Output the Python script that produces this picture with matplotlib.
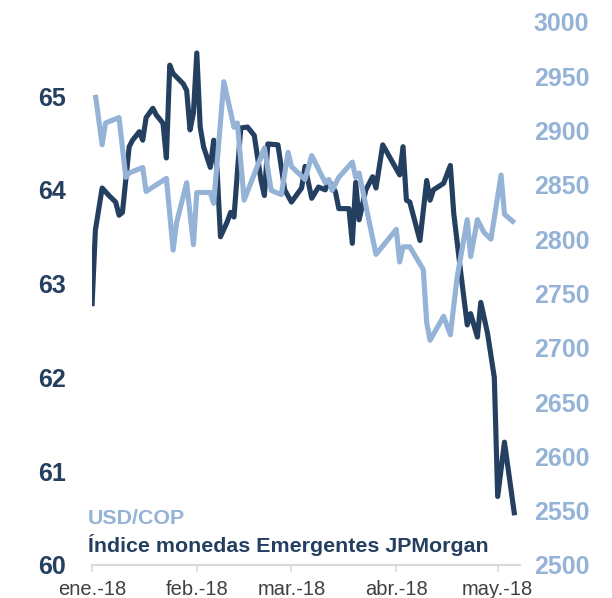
import matplotlib
matplotlib.use('Agg')
import matplotlib.pyplot as plt
import pandas as pd

plt.rcParams['font.family'] = ['Liberation Sans', 'DejaVu Sans']

navy = '#243F60'
sky = '#95B3D7'

# JPMorgan emerging-markets currency index (left axis)
jpm_dates = ['2018-01-01', '2018-01-02', '2018-01-04', '2018-01-06', '2018-01-08',
             '2018-01-09', '2018-01-10', '2018-01-12', '2018-01-13', '2018-01-15',
             '2018-01-16', '2018-01-17', '2018-01-19', '2018-01-20', '2018-01-22',
             '2018-01-23', '2018-01-24', '2018-01-25', '2018-01-28', '2018-01-29',
             '2018-01-30', '2018-01-31', '2018-02-01', '2018-02-02', '2018-02-03',
             '2018-02-05', '2018-02-06', '2018-02-07', '2018-02-08', '2018-02-10',
             '2018-02-11', '2018-02-12', '2018-02-14', '2018-02-16', '2018-02-18',
             '2018-02-20', '2018-02-21', '2018-02-22', '2018-02-25', '2018-02-27',
             '2018-03-01', '2018-03-04', '2018-03-05', '2018-03-07', '2018-03-09',
             '2018-03-11', '2018-03-12', '2018-03-14', '2018-03-15', '2018-03-18',
             '2018-03-19', '2018-03-20', '2018-03-21', '2018-03-23', '2018-03-25',
             '2018-03-26', '2018-03-28', '2018-04-02', '2018-04-03', '2018-04-04',
             '2018-04-05', '2018-04-08', '2018-04-10', '2018-04-11', '2018-04-12',
             '2018-04-15', '2018-04-17', '2018-04-18', '2018-04-20', '2018-04-22',
             '2018-04-23', '2018-04-25', '2018-04-26', '2018-04-28', '2018-04-30',
             '2018-05-01', '2018-05-03', '2018-05-06']
jpm_values = [62.76, 63.57, 64.02, 63.94, 63.87, 63.73, 63.76, 64.46, 64.53, 64.62,
              64.53, 64.77, 64.87, 64.80, 64.71, 64.34, 65.33, 65.24, 65.13, 65.06,
              64.64, 64.82, 65.46, 64.67, 64.46, 64.24, 64.53, 64.21, 63.50, 63.66,
              63.76, 63.71, 64.66, 64.67, 64.58, 64.10, 63.94, 64.49, 64.48, 64.00,
              63.87, 64.02, 64.25, 63.91, 64.03, 64.00, 64.10, 63.98, 63.80, 63.80,
              63.43, 64.08, 63.68, 64.00, 64.14, 64.02, 64.48, 64.16, 64.46, 63.89,
              63.87, 63.46, 64.10, 63.89, 64.00, 64.07, 64.26, 63.75, 63.14, 62.56,
              62.68, 62.43, 62.80, 62.47, 62.00, 60.73, 61.31, 60.53]

# USD/COP exchange rate (right axis)
cop_dates = ['2018-01-02', '2018-01-04', '2018-01-05', '2018-01-09', '2018-01-11',
             '2018-01-12', '2018-01-16', '2018-01-17', '2018-01-19', '2018-01-23',
             '2018-01-25', '2018-01-26', '2018-01-29', '2018-01-31', '2018-02-01',
             '2018-02-05', '2018-02-06', '2018-02-09', '2018-02-12', '2018-02-13',
             '2018-02-15', '2018-02-21', '2018-02-23', '2018-02-26', '2018-02-28',
             '2018-03-01', '2018-03-05', '2018-03-07', '2018-03-11', '2018-03-12',
             '2018-03-13', '2018-03-15', '2018-03-19', '2018-03-20', '2018-03-21',
             '2018-03-26', '2018-04-01', '2018-04-02', '2018-04-03', '2018-04-05',
             '2018-04-09', '2018-04-10', '2018-04-11', '2018-04-15', '2018-04-17',
             '2018-04-19', '2018-04-22', '2018-04-23', '2018-04-25', '2018-04-27',
             '2018-04-29', '2018-05-02', '2018-05-03', '2018-05-06']
cop_values = [2933, 2887, 2907, 2912, 2857, 2861, 2866, 2844, 2848, 2856,
              2790, 2815, 2852, 2795, 2843, 2843, 2833, 2945, 2903, 2907,
              2836, 2884, 2845, 2841, 2880, 2867, 2855, 2877, 2852, 2855,
              2845, 2857, 2871, 2857, 2861, 2786, 2809, 2779, 2793, 2793,
              2772, 2723, 2707, 2729, 2712, 2765, 2818, 2784, 2818, 2806,
              2800, 2859, 2823, 2815]

month_ticks = ['2018-01-01', '2018-02-01', '2018-03-01', '2018-04-01', '2018-05-01']
month_labels = ['ene.-18', 'feb.-18', 'mar.-18', 'abr.-18', 'may.-18']
left_ticks = [60, 61, 62, 63, 64, 65]
right_ticks = list(range(2500, 3001, 50))

fig = plt.figure(figsize=(6.12, 5.98), dpi=100)
ax = fig.add_axes([92 / 612, 1 - 565 / 598, 428 / 612, 543 / 598])
ax2 = ax.twinx()

ax.plot(pd.to_datetime(jpm_dates), jpm_values, color=navy, lw=3.7,
        solid_joinstyle='round', solid_capstyle='butt')
ax2.plot(pd.to_datetime(cop_dates), cop_values, color=sky, lw=3.7,
         solid_joinstyle='round', solid_capstyle='butt')

start = pd.Timestamp('2018-01-01')
ax.set_xlim(start, start + pd.Timedelta(days=126.6))
ax.set_ylim(60, 65.79)
ax2.set_ylim(2500, 3000)

ax.set_xticks(pd.to_datetime(month_ticks))
ax.set_xticklabels(month_labels)
ax.set_yticks(left_ticks)
ax.set_yticklabels([str(t) for t in left_ticks])
ax2.set_yticks(right_ticks)
ax2.set_yticklabels([str(t) for t in right_ticks])

for a in (ax, ax2):
    for side in ('top', 'left', 'right', 'bottom'):
        a.spines[side].set_visible(False)
ax.spines['bottom'].set_visible(True)
ax.spines['bottom'].set_color('#D9D9D9')
ax.spines['bottom'].set_linewidth(1.5)

ax.tick_params(axis='x', length=5, width=1.2, color='#D9D9D9', pad=6,
               labelsize=14.5, labelcolor='#404040')
ax.tick_params(axis='y', length=0, pad=19, labelsize=18, labelcolor=navy)
ax2.tick_params(axis='y', length=0, pad=10, labelsize=18, labelcolor=sky)
for lbl in ax.get_yticklabels():
    lbl.set_fontweight('bold')
for lbl in ax2.get_yticklabels():
    lbl.set_fontweight('bold')

fig.text(88 / 612, 1 - 519 / 598, 'USD/COP', color=sky, fontsize=15.4,
         fontweight='bold', va='center', ha='left')
fig.text(88 / 612, 1 - 545 / 598, 'Índice monedas Emergentes JPMorgan', color=navy,
         fontsize=15.4, fontweight='bold', va='center', ha='left')

fig.savefig('out.png', dpi=100)
